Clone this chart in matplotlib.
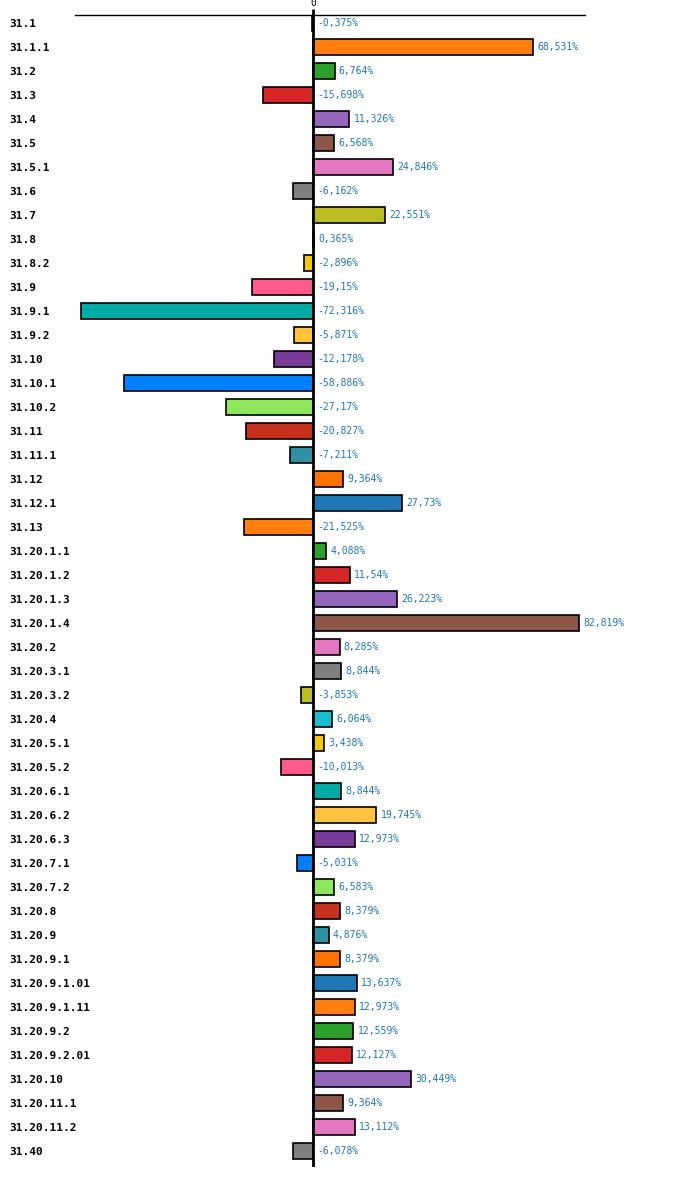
import matplotlib.pyplot as plt

# data
codes = ['31.1', '31.1.1', '31.2', '31.3', '31.4', '31.5', '31.5.1', '31.6', '31.7', '31.8',
         '31.8.2', '31.9', '31.9.1', '31.9.2', '31.10', '31.10.1', '31.10.2', '31.11', '31.11.1', '31.12',
         '31.12.1', '31.13', '31.20.1.1', '31.20.1.2', '31.20.1.3', '31.20.1.4', '31.20.2', '31.20.3.1',
         '31.20.3.2', '31.20.4', '31.20.5.1', '31.20.5.2', '31.20.6.1', '31.20.6.2', '31.20.6.3',
         '31.20.7.1', '31.20.7.2', '31.20.8', '31.20.9', '31.20.9.1', '31.20.9.1.01', '31.20.9.1.11',
         '31.20.9.2', '31.20.9.2.01', '31.20.10', '31.20.11.1', '31.20.11.2', '31.40']
values = [-0.375, 68.531, 6.764, -15.698, 11.326, 6.568, 24.846, -6.162, 22.551, 0.365,
          -2.896, -19.15, -72.316, -5.871, -12.178, -58.886, -27.17, -20.827, -7.211, 9.364,
          27.73, -21.525, 4.088, 11.54, 26.223, 82.819, 8.285, 8.844,
          -3.853, 6.064, 3.438, -10.013, 8.844, 19.745, 12.973,
          -5.031, 6.583, 8.379, 4.876, 8.379, 13.637, 12.973,
          12.559, 12.127, 30.449, 9.364, 13.112, -6.078]

# 20 colour cycle
palette = ['#1f77b4', '#ff7f0e', '#2ca02c', '#d62728', '#9467bd', '#8c564b', '#e377c2', '#7f7f7f',
           '#bcbd22', '#17becf', '#f2c80f', '#ff5a8c', '#00aba5', '#ffc33f', '#7a3c99',
           '#0080ff', '#8fe85c', '#c4301b', '#2f90a3', '#ff7300']
colors = [palette[i % len(palette)] for i in range(len(codes))]

fig = plt.figure(figsize=(7, 11.97), dpi=100)
ax = fig.add_axes([75/700, 1 - 1167/1197, 510/700, 1152/1197])

y = list(range(len(codes)))
ax.barh(y, values, height=0.667, color=colors, edgecolor='black', linewidth=1.2)

# value labels
for yi, v in zip(y, values):
    txt = str(v).replace('.', ',') + '%'
    ax.annotate(txt, (max(v, 0), yi), xytext=(3, 0), textcoords='offset points',
                ha='left', va='center', fontsize=7, color='#1f77b4',
                family='DejaVu Sans Mono')

ax.axvline(0, color='black', linewidth=2, zorder=3)

ax.set_xlim(-74.14, 84.74)
ax.set_ylim(len(codes) - 1 + 0.667, -0.333)

ax.set_yticks(y)
ax.set_yticklabels(codes, ha='left', fontsize=8, fontweight='bold', family='DejaVu Sans Mono')
ax.tick_params(axis='y', length=0, pad=47.5)

ax.xaxis.tick_top()
ax.set_xticks([0])
ax.set_xticklabels(['0'], fontsize=7, family='DejaVu Sans Mono')
ax.tick_params(axis='x', length=4, width=2, pad=1)

for s in ['left', 'right', 'bottom']:
    ax.spines[s].set_visible(False)
ax.spines['top'].set_linewidth(1)

fig.savefig('out.png', dpi=100)
